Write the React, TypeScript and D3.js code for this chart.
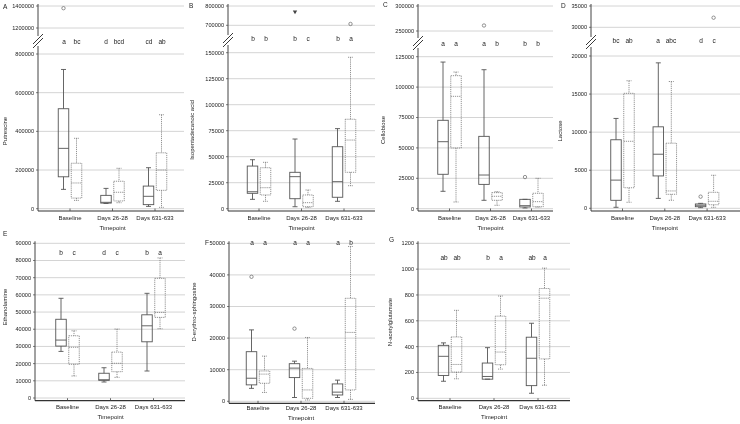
import React from "react";
import * as d3 from "d3";

const timepoints = ["Baseline", "Days 26-28", "Days 631-633"];

// Each row: [low whisker, Q1, median, Q3, high whisker]; per timepoint: solid box, then dotted box
const putrescine = [
  [100000, 165000, 312000, 517000, 720000],
  [43000, 55000, 133000, 235000, 364000],
  [27000, 29000, 33000, 69000, 105000],
  [31000, 40000, 85000, 142000, 209000],
  [12000, 21000, 64000, 117000, 212000],
  [7000, 95000, 200000, 289000, 486000],
];
const putrescineOutliers = [[0, 1380000]];
const putrescineLetters = ["a", "bc", "d", "bcd", "cd", "ab"];

const isopentadecanoic = [
  [9000, 14800, 16300, 41000, 47100],
  [7100, 13200, 20200, 39400, 44600],
  [1900, 9600, 30800, 35000, 67000],
  [1300, 1900, 5800, 13200, 18000],
  [7100, 11000, 26000, 59600, 77000],
  [22100, 35000, 66000, 86000, 145600],
];
const isopentadecanoicOutliers = [[2, 767000, 1], [5, 707000]];
const isopentadecanoicLetters = ["b", "b", "b", "c", "b", "a"];

const cellobiose = [
  [14300, 28300, 55100, 72700, 120600],
  [5500, 49900, 92400, 109400, 112400],
  [6900, 20000, 27700, 59500, 114300],
  [2800, 6900, 10200, 13200, 14000],
  [600, 1400, 2500, 7700, 7700],
  [1300, 1600, 5800, 12700, 25000],
];
const cellobioseOutliers = [[2, 261000], [4, 26000]];
const cellobioseLetters = ["a", "a", "a", "b", "b", "b"];

const lactose = [
  [130, 1050, 3700, 9000, 11800],
  [790, 2700, 8800, 15100, 16750],
  [1300, 4250, 7100, 10700, 19100],
  [1050, 1840, 2280, 8550, 16650],
  [80, 210, 400, 570, 650],
  [130, 470, 920, 2100, 4340],
];
const lactoseOutliers = [[4, 1530], [5, 32250]];
const lactoseLetters = ["bc", "ab", "a", "abc", "d", "c"];

const ethanolamine = [
  [27100, 30200, 33700, 45800, 58000],
  [12800, 19600, 29500, 36200, 39100],
  [9300, 10300, 10600, 14400, 17600],
  [12000, 15300, 20200, 26700, 40100],
  [15700, 32700, 42000, 48400, 60900],
  [40300, 46900, 49800, 69600, 81500],
];
const ethanolamineOutliers: number[][] = [];
const ethanolamineLetters = ["b", "c", "d", "c", "b", "a"];

const sphingosine = [
  [4100, 5200, 7300, 15700, 22600],
  [2800, 5700, 8600, 9600, 14300],
  [1200, 7500, 10500, 11900, 12700],
  [400, 950, 3600, 10400, 20200],
  [1200, 2000, 2900, 5500, 6700],
  [600, 3600, 21800, 32600, 49000],
];
const sphingosineOutliers = [[0, 39400], [2, 23000]];
const sphingosineLetters = ["a", "a", "a", "a", "a", "b"];

const acetylglutamate = [
  [132, 177, 325, 410, 429],
  [151, 203, 262, 475, 681],
  [148, 148, 169, 273, 392],
  [226, 260, 358, 636, 792],
  [39, 98, 310, 473, 581],
  [101, 305, 775, 850, 1008],
];
const acetylglutamateOutliers: number[][] = [];
const acetylglutamateLetters = ["ab", "ab", "b", "a", "ab", "a"];

type Panel = {
  label: string;
  title: string;
  stats: number[][];
  outliers: number[][];
  letters: string[];
  ax: number;
  rx: number;
  x0: number;
  dx: number;
  axisY: number;
  lower: number[];
  lowerR: number[];
  upper?: number[];
  upperR?: number[];
  breakY?: number;
  letterY: number;
  labelXY: number[];
  titleXY: number[];
  tickLabelY: number;
};

const panels: Panel[] = [
  {
    label: "A", title: "Putrescine", stats: putrescine, outliers: putrescineOutliers, letters: putrescineLetters,
    ax: 38, rx: 184, x0: 32, dx: 42.5, axisY: 211,
    lower: [0, 800000, 200000], lowerR: [208.7, 54], upper: [1200000, 1400000, 200000], upperR: [28, 6], breakY: 40,
    letterY: 43.5, labelXY: [3, 7], titleXY: [5, 131], tickLabelY: 220,
  },
  {
    label: "B", title: "Isopentadecanoic acid", stats: isopentadecanoic, outliers: isopentadecanoicOutliers, letters: isopentadecanoicLetters,
    ax: 228, rx: 375, x0: 31, dx: 42.5, axisY: 211,
    lower: [0, 150000, 25000], lowerR: [208.7, 52.7], upper: [700000, 800000, 100000], upperR: [25.3, 6], breakY: 39,
    letterY: 40.5, labelXY: [189, 6], titleXY: [192, 130], tickLabelY: 220,
  },
  {
    label: "C", title: "Cellobiose", stats: cellobiose, outliers: cellobioseOutliers, letters: cellobioseLetters,
    ax: 418, rx: 553, x0: 31.5, dx: 41, axisY: 211,
    lower: [0, 125000, 25000], lowerR: [208.7, 56.7], upper: [250000, 300000, 50000], upperR: [31, 6], breakY: 42,
    letterY: 45.5, labelXY: [383, 5], titleXY: [383, 130], tickLabelY: 220,
  },
  {
    label: "D", title: "Lactose", stats: lactose, outliers: lactoseOutliers, letters: lactoseLetters,
    ax: 591, rx: 740, x0: 31.5, dx: 42.3, axisY: 211,
    lower: [0, 20000, 5000], lowerR: [208.3, 56], upper: [30000, 35000, 5000], upperR: [27.3, 6], breakY: 41,
    letterY: 43, labelXY: [561, 6], titleXY: [560, 131], tickLabelY: 220,
  },
  {
    label: "E", title: "Ethanolamine", stats: ethanolamine, outliers: ethanolamineOutliers, letters: ethanolamineLetters,
    ax: 35, rx: 185, x0: 32.5, dx: 43, axisY: 400.7,
    lower: [0, 90000, 10000], lowerR: [398, 243.3],
    letterY: 255, labelXY: [3, 234], titleXY: [5, 307], tickLabelY: 409,
  },
  {
    label: "F", title: "D-erythro-sphingosine", stats: sphingosine, outliers: sphingosineOutliers, letters: sphingosineLetters,
    ax: 229, rx: 375, x0: 29, dx: 43, axisY: 403.3,
    lower: [0, 50000, 10000], lowerR: [401.3, 243.3],
    letterY: 245, labelXY: [205, 243], titleXY: [194, 312], tickLabelY: 410,
  },
  {
    label: "G", title: "N-acetylglutamate", stats: acetylglutamate, outliers: acetylglutamateOutliers, letters: acetylglutamateLetters,
    ax: 418, rx: 570, x0: 32, dx: 44, axisY: 400.7,
    lower: [0, 1200, 200], lowerR: [398.3, 243.3],
    letterY: 260, labelXY: [389, 240], titleXY: [390, 322], tickLabelY: 409,
  },
];

const FONT = "'Liberation Sans', Arial, sans-serif";
const GRID = "#d4d4d4";
const AXIS = "#444";
const TEXT = "#222";

function PanelView({ p }: { p: Panel }) {
  const [lmin, lmax, lstep] = p.lower;
  const yLow = d3.scaleLinear().domain([lmin, lmax]).range(p.lowerR);
  const yUp = p.upper ? d3.scaleLinear().domain([p.upper[0], p.upper[1]]).range(p.upperR as number[]) : null;
  const y = (v: number) => (yUp && v > lmax ? yUp(v) : yLow(v));
  const x = d3
    .scalePoint<string>()
    .domain(timepoints)
    .range([p.ax + p.x0, p.ax + p.x0 + 2 * p.dx]);
  const lowTicks = d3.range(lmin, lmax + lstep / 2, lstep);
  const upTicks = p.upper ? d3.range(p.upper[0], p.upper[1] + p.upper[2] / 2, p.upper[2]) : [];
  const boxW = 10.5;
  const off = 6.5;
  const cx = (i: number) => (x(timepoints[Math.floor(i / 2)]) as number) + (i % 2 === 0 ? -off : off);
  const topY = p.upper ? (p.upperR as number[])[1] - 2 : p.lowerR[1] - 2;

  return (
    <g>
      {[...lowTicks.map((t) => yLow(t)), ...upTicks.map((t) => (yUp as any)(t))].map((yy, i) => (
        <line key={"g" + i} x1={p.ax} x2={p.rx} y1={yy} y2={yy} stroke={GRID} strokeWidth={1} />
      ))}
      {lowTicks.map((t) => (
        <g key={"lt" + t}>
          <line x1={p.ax - 2} x2={p.ax} y1={yLow(t)} y2={yLow(t)} stroke={AXIS} strokeWidth={0.7} />
          <text x={p.ax - 4} y={yLow(t)} dy="0.35em" textAnchor="end" fontSize={5.6} fill={TEXT} fontFamily={FONT}>
            {String(t)}
          </text>
        </g>
      ))}
      {upTicks.map((t) => (
        <g key={"ut" + t}>
          <line x1={p.ax - 2} x2={p.ax} y1={(yUp as any)(t)} y2={(yUp as any)(t)} stroke={AXIS} strokeWidth={0.7} />
          <text x={p.ax - 4} y={(yUp as any)(t)} dy="0.35em" textAnchor="end" fontSize={5.6} fill={TEXT} fontFamily={FONT}>
            {String(t)}
          </text>
        </g>
      ))}
      {p.breakY ? (
        <g>
          <line x1={p.ax} x2={p.ax} y1={topY} y2={p.breakY - 4} stroke={AXIS} strokeWidth={1} />
          <line x1={p.ax} x2={p.ax} y1={p.breakY + 6} y2={p.axisY} stroke={AXIS} strokeWidth={1} />
          <line x1={p.ax - 5} x2={p.ax + 5} y1={p.breakY + 4} y2={p.breakY - 6} stroke="#222" strokeWidth={0.9} />
          <line x1={p.ax - 5} x2={p.ax + 5} y1={p.breakY + 8} y2={p.breakY - 2} stroke="#222" strokeWidth={0.9} />
        </g>
      ) : (
        <line x1={p.ax} x2={p.ax} y1={topY} y2={p.axisY} stroke={AXIS} strokeWidth={1} />
      )}
      <line x1={p.ax} x2={p.rx} y1={p.axisY} y2={p.axisY} stroke="#333" strokeWidth={1.2} />
      {timepoints.map((tp) => (
        <g key={tp}>
          <line x1={x(tp)} x2={x(tp)} y1={p.axisY} y2={p.axisY - 2.5} stroke={AXIS} strokeWidth={0.8} />
          <text x={x(tp)} y={p.tickLabelY} textAnchor="middle" fontSize={6} fill={TEXT} fontFamily={FONT}>
            {tp}
          </text>
        </g>
      ))}
      <text x={x(timepoints[1])} y={p.tickLabelY + 9.5} textAnchor="middle" fontSize={6} fill={TEXT} fontFamily={FONT}>
        Timepoint
      </text>
      {p.stats.map((s, i) => {
        const dotted = i % 2 === 1;
        const c = cx(i);
        const stroke = dotted ? "#777" : "#555";
        const dash = dotted ? "1.2,0.9" : undefined;
        const sw = dotted ? 0.8 : 0.9;
        const [lo, q1, med, q3, hi] = s;
        return (
          <g key={"b" + i} stroke={stroke} strokeWidth={sw} strokeDasharray={dash} fill="none">
            <line x1={c} x2={c} y1={y(hi)} y2={y(q3)} />
            <line x1={c} x2={c} y1={y(q1)} y2={y(lo)} />
            <line x1={c - 2.5} x2={c + 2.5} y1={y(hi)} y2={y(hi)} />
            <line x1={c - 2.5} x2={c + 2.5} y1={y(lo)} y2={y(lo)} />
            <rect x={c - boxW / 2} y={y(q3)} width={boxW} height={Math.max(0.5, y(q1) - y(q3))} />
            <line x1={c - boxW / 2} x2={c + boxW / 2} y1={y(med)} y2={y(med)} />
          </g>
        );
      })}
      {p.outliers.map((o, k) => {
        const c = cx(o[0]);
        const yy = y(o[1]);
        if (o[2]) {
          return <path key={"o" + k} d={`M${c - 2.2},${yy - 1.8} L${c + 2.2},${yy - 1.8} L${c},${yy + 2} Z`} fill="#444" />;
        }
        return <circle key={"o" + k} cx={c} cy={yy} r={1.7} fill="none" stroke="#666" strokeWidth={0.7} />;
      })}
      {p.letters.map((l, i) => (
        <text key={"l" + i} x={Math.round(cx(i))} y={p.letterY} textAnchor="middle" fontSize={6.5} fill={TEXT} fontFamily={FONT}>
          {l}
        </text>
      ))}
      <text x={p.labelXY[0]} y={p.labelXY[1]} dy="0.35em" fontSize={6.5} fill={TEXT} fontFamily={FONT}>
        {p.label}
      </text>
      <text
        transform={`translate(${p.titleXY[0]},${p.titleXY[1]}) rotate(-90)`}
        textAnchor="middle"
        dominantBaseline="central"
        fontSize={6}
        fill={TEXT}
        fontFamily={FONT}
      >
        {p.title}
      </text>
    </g>
  );
}

export default function App() {
  return (
    <svg
      width={740}
      height={424}
      viewBox="0 0 740 424"
      style={{ position: "absolute", left: 0, top: 0, background: "white", filter: "grayscale(1)" }}
    >
      <rect width={740} height={424} fill="white" />
      {panels.map((p) => (
        <PanelView key={p.label} p={p} />
      ))}
    </svg>
  );
}
